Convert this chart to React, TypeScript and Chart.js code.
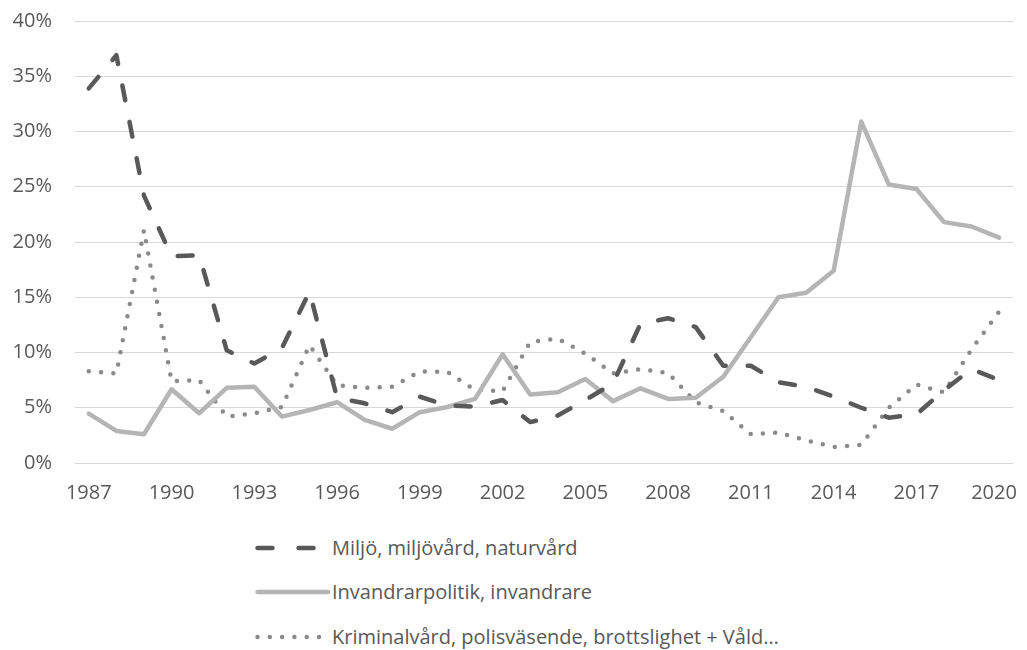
import React, { useEffect, useRef } from "react";
import { Chart, registerables } from "chart.js";

Chart.register(...registerables);

const years: string[] = [
  "1987", "1988", "1989", "1990", "1991", "1992", "1993", "1994", "1995", "1996",
  "1997", "1998", "1999", "2000", "2001", "2002", "2003", "2004", "2005", "2006",
  "2007", "2008", "2009", "2010", "2011", "2012", "2013", "2014", "2015", "2016",
  "2017", "2018", "2019", "2020",
];

const miljo: number[] = [
  33.9, 36.9, 24.2, 18.7, 18.8, 10.2, 9.0, 10.4, 15.5, 5.9,
  5.4, 4.6, 6.0, 5.2, 5.1, 5.7, 3.7, 4.3, 5.7, 7.2,
  12.6, 13.1, 12.3, 8.8, 8.8, 7.3, 6.9, 6.0, 5.0, 4.1,
  4.4, 6.6, 8.5, 7.5,
];

const invandrar: number[] = [
  4.47, 2.9, 2.6, 6.67, 4.5, 6.8, 6.9, 4.2, 4.8, 5.5,
  3.9, 3.1, 4.6, 5.07, 5.8, 9.84, 6.2, 6.4, 7.6, 5.6,
  6.76, 5.8, 5.9, 7.8, 11.4, 15.0, 15.4, 17.4, 30.9, 25.2,
  24.8, 21.8, 21.4, 20.4,
];

const kriminal: number[] = [
  8.3, 8.1, 21.05, 7.4, 7.5, 4.2, 4.5, 5.07, 10.65, 7.03,
  6.8, 6.9, 8.3, 8.25, 6.6, 6.5, 10.95, 11.25, 9.9, 8.1,
  8.5, 8.15, 5.5, 4.7, 2.6, 2.75, 2.05, 1.45, 1.65, 5.0,
  7.1, 6.4, 10.3, 13.7,
];

const seriesLabels: string[] = [
  "Miljö, miljövård, naturvård",
  "Invandrarpolitik, invandrare",
  "Kriminalvård, polisväsende, brottslighet + Våld…",
];

const yTicks: number[] = [0, 5, 10, 15, 20, 25, 30, 35, 40];

const FONT = "'Open Sans', sans-serif";
const TEXT = "#595959";
const DASH_COLOR = "#595959";
const SOLID_COLOR = "#b5b5b5";
const DOT_COLOR = "#8a8a8a";

export default function App() {
  const canvasRef = useRef<HTMLCanvasElement | null>(null);

  useEffect(() => {
    document.documentElement.style.overflow = "hidden";
    document.body.style.overflow = "hidden";
    const canvas = canvasRef.current;
    if (!canvas) return;
    const lastIndex = years.length - 1;
    const chart = new Chart(canvas, {
      type: "line",
      data: {
        labels: years,
        datasets: [
          {
            label: seriesLabels[0],
            data: miljo,
            borderColor: DASH_COLOR,
            borderWidth: 4.5,
            borderDash: [15, 22],
            borderCapStyle: "round",
            borderJoinStyle: "round",
            pointRadius: 0,
            tension: 0,
            fill: false,
          },
          {
            label: seriesLabels[1],
            data: invandrar,
            borderColor: SOLID_COLOR,
            borderWidth: 4.5,
            borderCapStyle: "round",
            borderJoinStyle: "round",
            pointRadius: 0,
            tension: 0,
            fill: false,
          },
          {
            label: seriesLabels[2],
            data: kriminal,
            borderColor: DOT_COLOR,
            borderWidth: 4.5,
            borderDash: [0, 12.3],
            borderCapStyle: "round",
            borderJoinStyle: "round",
            pointRadius: 0,
            tension: 0,
            fill: false,
          },
        ],
      },
      options: {
        animation: false,
        responsive: false,
        devicePixelRatio: 1,
        layout: { padding: { top: 13, right: 14, left: 0, bottom: 0 } },
        plugins: {
          legend: { display: false },
          tooltip: { enabled: false },
        },
        scales: {
          x: {
            type: "category",
            offset: true,
            grid: { display: false, drawTicks: false },
            border: { display: false },
            ticks: {
              autoSkip: false,
              maxRotation: 0,
              minRotation: 0,
              padding: 18,
              color: TEXT,
              font: { family: FONT, size: 20 },
              callback: (_v: any, i: number) =>
                i === lastIndex ? years[i] + "  " : i % 3 === 0 ? years[i] : "",
            },
            afterFit: (scale: any) => {
              scale.height = 45;
              scale.paddingLeft = 0;
              scale.paddingRight = 0;
            },
          },
          y: {
            min: yTicks[0],
            max: yTicks[yTicks.length - 1],
            grid: { color: "#d9d9d9", lineWidth: 1, drawTicks: false },
            border: { display: false },
            afterBuildTicks: (scale: any) => {
              scale.ticks = yTicks.map((v) => ({ value: v }));
            },
            ticks: {
              padding: 23,
              color: TEXT,
              font: { family: FONT, size: 20 },
              callback: (v: any) => `${v}%`,
            },
            afterFit: (scale: any) => {
              scale.width = 67;
              scale.paddingTop = 0;
              scale.paddingBottom = 0;
            },
          },
        },
      },
    });
    return () => chart.destroy();
  }, []);

  const rowStyle = (top: number): React.CSSProperties => ({
    position: "absolute",
    left: 247,
    top: top - 12,
    height: 24,
    display: "flex",
    alignItems: "center",
    fontFamily: FONT,
    fontSize: 20,
    lineHeight: "24px",
    color: TEXT,
    whiteSpace: "nowrap",
  });

  return (
    <div style={{ position: "relative", width: 1011, height: 642, overflow: "hidden" }}>
      <canvas ref={canvasRef} width={1019} height={500} style={{ display: "block" }} />
      <div style={rowStyle(539.7)}>
        <svg width={77} height={10} style={{ display: "block" }}>
          <line x1={2.5} y1={5} x2={68} y2={5} stroke={DASH_COLOR} strokeWidth={4.5}
            strokeLinecap="round" strokeDasharray="15 26" />
        </svg>
        <span>{seriesLabels[0]}</span>
      </div>
      <div style={rowStyle(583.7)}>
        <svg width={77} height={10} style={{ display: "block" }}>
          <line x1={2.5} y1={5} x2={73} y2={5} stroke={SOLID_COLOR} strokeWidth={4.5}
            strokeLinecap="round" />
        </svg>
        <span>{seriesLabels[1]}</span>
      </div>
      <div style={rowStyle(629)}>
        <svg width={77} height={10} style={{ display: "block" }}>
          <line x1={2.5} y1={5} x2={70} y2={5} stroke={DOT_COLOR} strokeWidth={4.5}
            strokeLinecap="round" strokeDasharray="0 12.3" />
        </svg>
        <span>{seriesLabels[2]}</span>
      </div>
    </div>
  );
}
